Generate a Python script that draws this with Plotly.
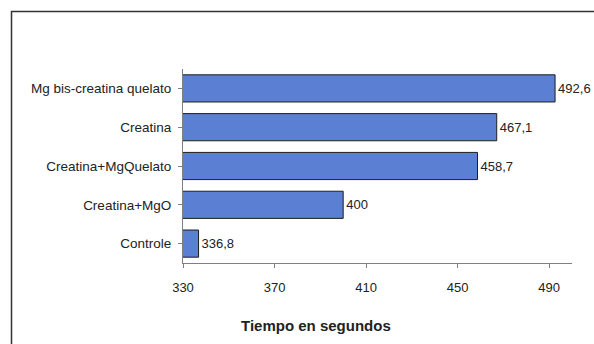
import plotly.graph_objects as go

categories = ["Controle", "Creatina+MgO", "Creatina+MgQuelato", "Creatina", "Mg bis-creatina quelato"]
values = [336.8, 400, 458.7, 467.1, 492.6]
labels = [f"{v:g}".replace(".", ",") for v in values]
x_ticks = [330, 370, 410, 450, 490]
x_title = "Tiempo en segundos"

W, H = 594, 344
L, R, T, B = 183, 22, 69, 81
pw, ph = W - L - R, H - T - B
FONT = "Liberation Sans, Arial"

def px_x(p):
    return (p - L) / pw

def px_y(p):
    return (H - B - p) / ph

fig = go.Figure(go.Bar(
    y=categories, x=values, orientation="h",
    marker=dict(color="#5b7fd3", line=dict(color="#1e1e1e", width=1)),
    text=labels, textposition="outside", cliponaxis=False,
    textfont=dict(family=FONT, size=13, color="#222"),
))

fig.update_layout(
    width=W, height=H, margin=dict(l=L, r=R, t=T, b=B),
    paper_bgcolor="white", plot_bgcolor="white",
    bargap=0.3, showlegend=False,
    font=dict(family=FONT, size=13, color="#222"),
    xaxis=dict(range=[330, 500], tickvals=x_ticks,
               showgrid=False, zeroline=False, showline=True, linecolor="#808080",
               linewidth=1, ticks="outside", ticklen=4, tickcolor="#808080",
               ticklabelstandoff=8, tickfont=dict(size=13)),
    yaxis=dict(showgrid=False, zeroline=False, showline=True, linecolor="#808080",
               linewidth=1, ticks="outside", ticklen=4, tickcolor="#808080",
               ticklabelstandoff=4, tickfont=dict(size=13.5)),
    annotations=[dict(text="<b>" + x_title + "</b>", xref="paper", yref="paper",
                      x=px_x(316), y=px_y(325), xanchor="center", yanchor="middle",
                      showarrow=False, font=dict(family=FONT, size=15, color="#222"))],
    shapes=[dict(type="rect", xref="paper", yref="paper",
                 x0=px_x(11.5), x1=px_x(620), y0=px_y(11.5), y1=px_y(400),
                 line=dict(color="#333", width=1.5), layer="below")],
)
fig.write_html("out.html")
